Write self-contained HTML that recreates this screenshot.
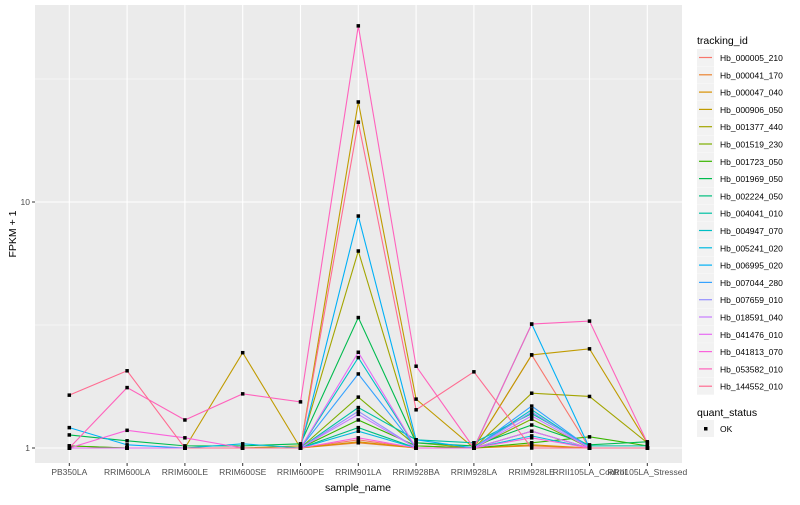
<!DOCTYPE html>
<html><head><meta charset="utf-8"><style>
body{margin:0;background:#fff;font-family:"Liberation Sans",sans-serif}
svg text{font-family:"Liberation Sans",sans-serif}
</style></head><body>
<svg id="chart" width="800" height="500"></svg>
<script>
const categories=["PB350LA","RRIM600LA","RRIM600LE","RRIM600SE","RRIM600PE","RRIM901LA","RRIM928BA","RRIM928LA","RRIM928LE","RRII105LA_Control","RRII105LA_Stressed"];
const seriesNames=["Hb_000005_210","Hb_000041_170","Hb_000047_040","Hb_000906_050","Hb_001377_440","Hb_001519_230","Hb_001723_050","Hb_001969_050","Hb_002224_050","Hb_004041_010","Hb_004947_070","Hb_005241_020","Hb_006995_020","Hb_007044_280","Hb_007659_010","Hb_018591_040","Hb_041476_010","Hb_041813_070","Hb_053582_010","Hb_144552_010"];
const seriesColors=["#F8766D","#EA8331","#D89000","#C09B00","#A3A500","#7CAE00","#39B600","#00BB4E","#00BF7D","#00C1A3","#00BFC4","#00BAE0","#00B0F6","#35A2FF","#9590FF","#C77CFF","#E76BF3","#FA62DB","#FF62BC","#FF6C91"];
const values=[
[1.0,1.0,1.0,1.0,1.0,1.08,1.0,1.0,2.39,1.0,1.0],
[1.0,1.0,1.0,1.0,1.0,1.05,1.0,1.0,1.02,1.0,1.0],
[1.0,1.0,1.0,1.0,1.0,1.06,1.0,1.0,1.03,1.0,1.0],
[1.0,1.0,1.0,2.44,1.0,25.5,1.58,1.0,2.39,2.53,1.05],
[1.0,1.0,1.0,1.0,1.02,6.32,1.05,1.0,1.67,1.62,1.05],
[1.02,1.0,1.0,1.0,1.0,1.61,1.02,1.0,1.31,1.0,1.0],
[1.02,1.0,1.0,1.0,1.0,1.30,1.02,1.0,1.05,1.11,1.02],
[1.13,1.07,1.02,1.02,1.04,3.39,1.05,1.02,1.24,1.03,1.06],
[1.0,1.0,1.0,1.0,1.0,1.21,1.0,1.0,1.17,1.0,1.0],
[1.0,1.0,1.0,1.0,1.0,1.46,1.08,1.05,1.38,1.02,1.02],
[1.0,1.0,1.0,1.0,1.0,2.33,1.0,1.0,1.43,1.0,1.0],
[1.0,1.0,1.0,1.04,1.0,1.17,1.0,1.0,1.12,1.0,1.0],
[1.21,1.03,1.0,1.0,1.0,8.77,1.08,1.0,3.19,1.0,1.0],
[1.0,1.0,1.0,1.0,1.0,2.0,1.0,1.0,1.48,1.0,1.0],
[1.0,1.0,1.0,1.0,1.0,1.41,1.0,1.0,1.4,1.0,1.0],
[1.0,1.0,1.0,1.0,1.0,1.37,1.0,1.0,1.35,1.0,1.0],
[1.0,1.0,1.0,1.0,1.0,2.45,1.0,1.0,1.17,1.0,1.0],
[1.0,1.18,1.10,1.0,1.0,1.1,1.0,1.0,1.1,1.0,1.0],
[1.0,1.76,1.30,1.66,1.54,52,2.15,1.0,3.19,3.28,1.05],
[1.64,2.06,1.0,1.0,1.0,21.1,1.43,2.04,1.0,1.0,1.0]
];
const yTicks=[1,10];
const NS="http://www.w3.org/2000/svg";
const svg=document.getElementById('chart');
function mk(t,a,p){const e=document.createElementNS(NS,t);for(const k in a)e.setAttribute(k,a[k]);(p||svg).appendChild(e);return e;}
const L=35,R=682,T=5,B=463;
const x0=69.3,dx=57.8;
const xS=i=>x0+i*dx;
const yS=v=>448-246*Math.log10(v);
const panel=mk('rect',{x:L,y:T,width:R-L,height:B-T,fill:'#EBEBEB'});


[Math.sqrt(10),Math.sqrt(1000)].forEach(v=>{mk('line',{x1:L,x2:R,y1:yS(v),y2:yS(v),stroke:'#fff','stroke-width':0.6});});
yTicks.forEach(v=>{
 mk('line',{x1:L,x2:R,y1:yS(v),y2:yS(v),stroke:'#fff','stroke-width':1.1});
 mk('line',{x1:L-3,x2:L,y1:yS(v),y2:yS(v),stroke:'#333','stroke-width':1});
 const t=mk('text',{x:L-5,y:yS(v)+3,'text-anchor':'end','font-size':8.5,fill:'#4D4D4D'});t.textContent=v;
 
 
});
categories.forEach((c,i)=>{
 mk('line',{x1:xS(i),x2:xS(i),y1:T,y2:B,stroke:'#fff','stroke-width':1.1});
 mk('line',{x1:xS(i),x2:xS(i),y1:B,y2:B+3,stroke:'#333','stroke-width':1});
 const t=mk('text',{x:xS(i),y:B+12,'text-anchor':'middle','font-size':8.5,fill:'#4D4D4D'});t.textContent=c;
 
 
});
values.forEach((vals,s)=>{
 const p=mk('polyline',{points:vals.map((v,i)=>xS(i)+','+yS(v)).join(' '),fill:'none',stroke:seriesColors[s],'stroke-width':1.1});
 
 
});
values.forEach(vals=>vals.forEach((v,i)=>{
 const r=mk('rect',{x:xS(i)-1.75,y:yS(v)-1.75,width:3.5,height:3.5,fill:'#000'});
 
 
}));
let t=mk('text',{x:358,y:491,'text-anchor':'middle','font-size':10.5,fill:'#000'});t.textContent='sample_name';


t=mk('text',{x:16,y:234,'text-anchor':'middle','font-size':10.5,fill:'#000',transform:'rotate(-90 16 234)'});t.textContent='FPKM + 1';


t=mk('text',{x:697,y:44,'font-size':10.5,fill:'#000'});t.textContent='tracking_id';


seriesNames.forEach((n,s)=>{
 const y=49+s*17.3;
 const g=mk('g',{});
 
 
 mk('rect',{x:697,y:y,width:17,height:17,fill:'#F2F2F2'},g);
 mk('line',{x1:699,x2:712,y1:y+8.5,y2:y+8.5,stroke:seriesColors[s],'stroke-width':1.2},g);
 const tt=mk('text',{x:720,y:y+12,'font-size':8.5,fill:'#000'},g);tt.textContent=n;
});
t=mk('text',{x:697,y:416,'font-size':10.5,fill:'#000'});t.textContent='quant_status';


const g2=mk('g',{});


mk('rect',{x:697,y:420,width:17,height:17,fill:'#F2F2F2'},g2);
mk('rect',{x:704,y:427,width:3.5,height:3.5,fill:'#000'},g2);
const ok=mk('text',{x:720,y:432,'font-size':8.5,fill:'#000'},g2);ok.textContent='OK';
</script>
</body></html>
